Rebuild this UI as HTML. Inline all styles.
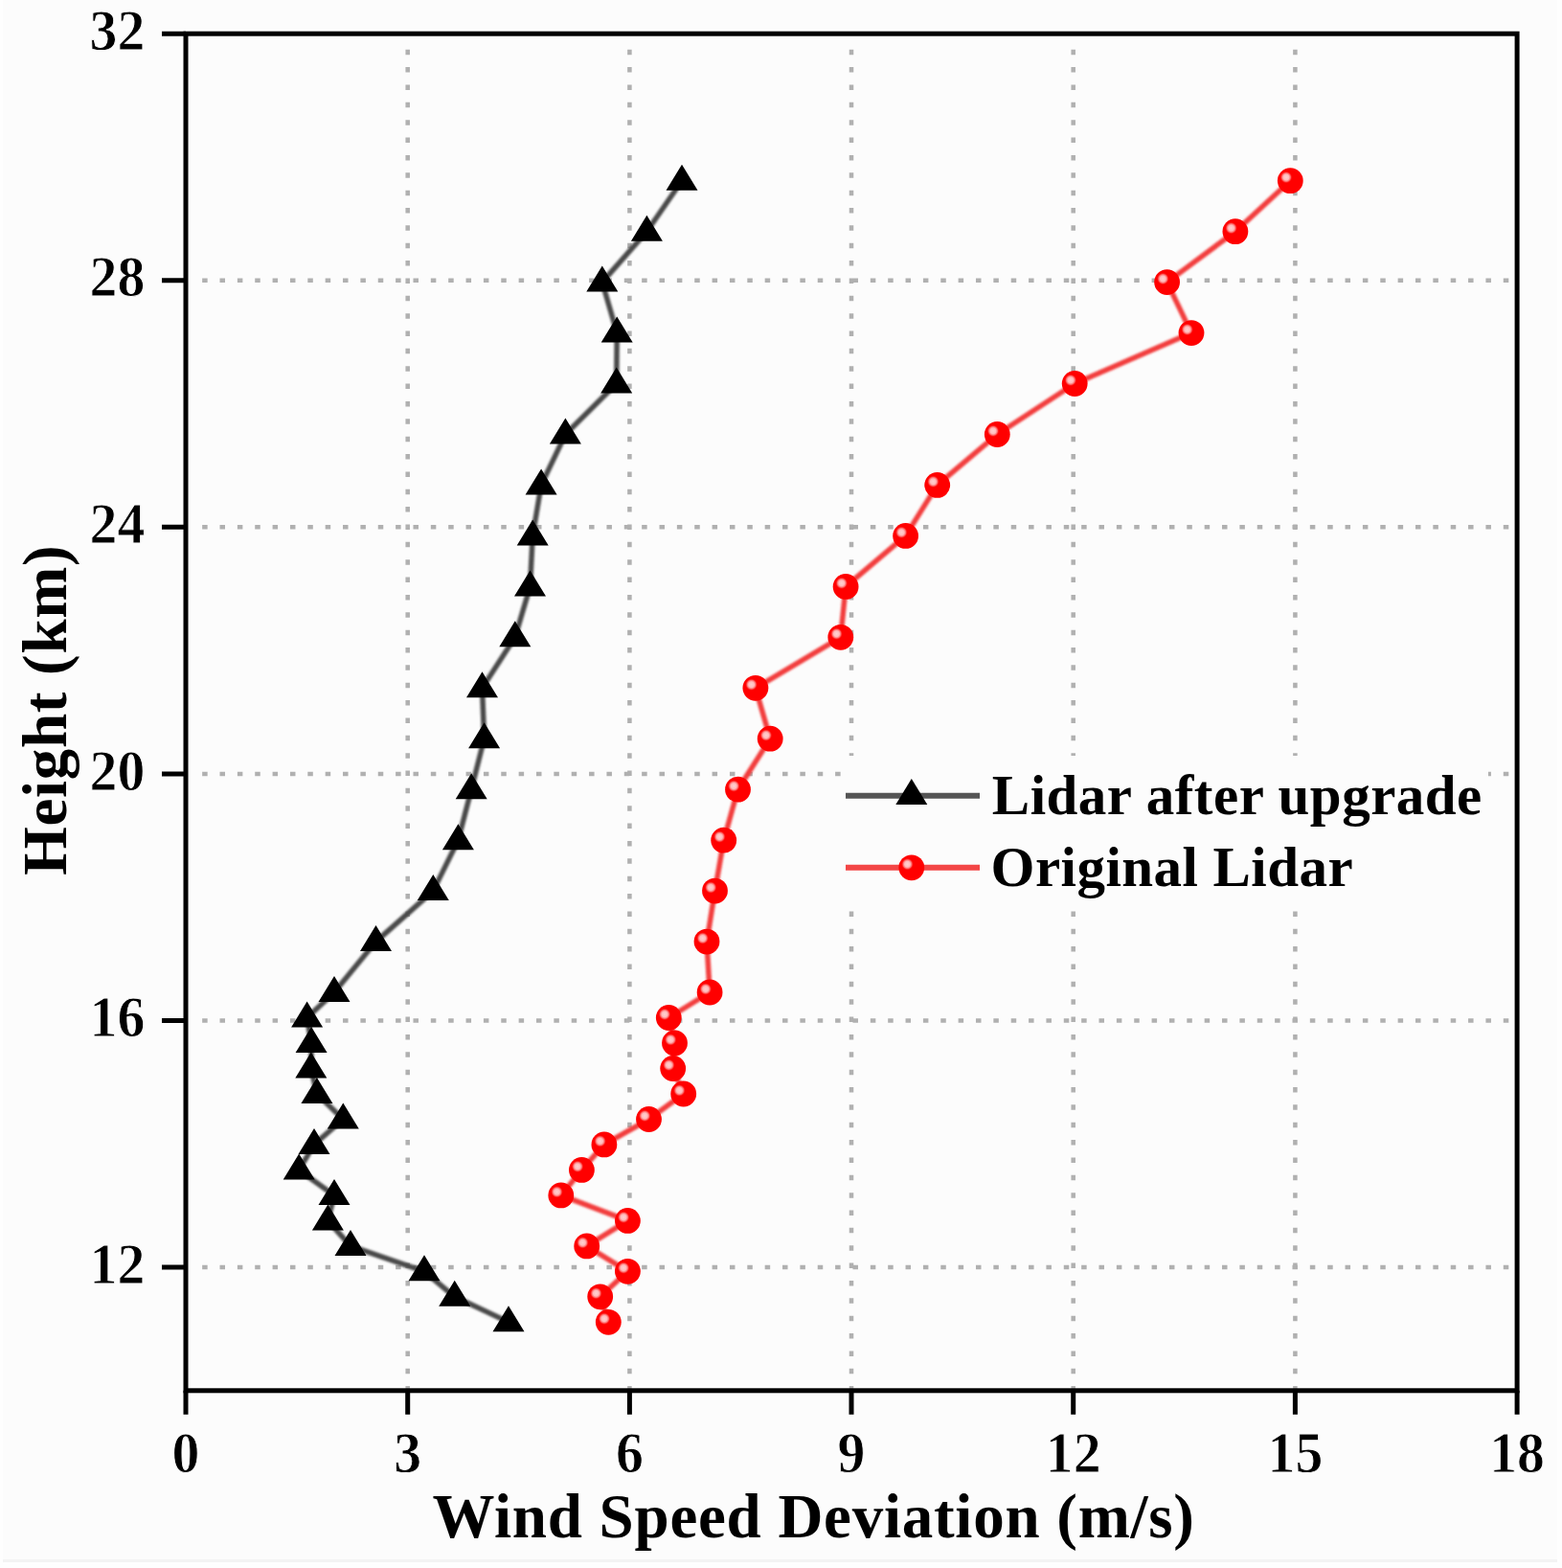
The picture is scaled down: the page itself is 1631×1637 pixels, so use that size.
<!DOCTYPE html>
<html><head><meta charset="utf-8"><style>
html,body{margin:0;padding:0;background:#fefefe;width:1631px;height:1637px;overflow:hidden}
svg{display:block}
text{font-family:'Liberation Serif','Times New Roman',serif;font-weight:bold;fill:#000}
.tl{font-size:57.8px;stroke:#fcfcfc;stroke-width:0.8px}
.at{font-size:65px}
.lg{font-size:59px}
</style></head><body>
<svg width="1631" height="1637" viewBox="0 0 1631 1637">
<defs>
<radialGradient id="hl" cx="0.5" cy="0.5" r="0.5">
<stop offset="0" stop-color="#ffd0d0"/>
<stop offset="0.45" stop-color="#ffbcbc"/>
<stop offset="0.7" stop-color="#ff6868"/>
<stop offset="1" stop-color="#ff0000" stop-opacity="0"/>
</radialGradient>
<filter id="soft" x="0" y="0" width="1631" height="1637" filterUnits="userSpaceOnUse"><feGaussianBlur stdDeviation="0.8"/></filter>
</defs>
<rect x="0" y="0" width="1631" height="1637" fill="#fefefe"/>
<rect x="3" y="0" width="1623" height="1628" fill="#fcfcfc"/>
<rect x="3" y="1628" width="1623" height="3" fill="#f3f3f3"/>
<path d="M425.7,51.75V1451.8 M657.4,51.75V1451.8 M889.0,51.75V1451.8 M1120.7,51.75V1451.8 M1352.4,51.75V1451.8 M211.15,1323.0H1584.1 M211.15,1065.5H1584.1 M211.15,807.9H1584.1 M211.15,550.3H1584.1 M211.15,292.8H1584.1" stroke="#b0b0b0" stroke-width="4.5" stroke-dasharray="5.5 12.86" fill="none"/>
<rect x="878" y="789" width="676" height="161" fill="#fcfcfc"/>
<rect x="194.0" y="35.2" width="1390.1" height="1416.6" fill="none" stroke="#000" stroke-width="5"/>
<path d="M194.0,1451.8V1476.8 M425.7,1451.8V1476.8 M657.4,1451.8V1476.8 M889.0,1451.8V1476.8 M1120.7,1451.8V1476.8 M1352.4,1451.8V1476.8 M1584.1,1451.8V1476.8 M194.0,1323.0H169.0 M194.0,1065.5H169.0 M194.0,807.9H169.0 M194.0,550.3H169.0 M194.0,292.8H169.0 M194.0,35.2H169.0" stroke="#000" stroke-width="5" fill="none"/>
<text transform="translate(194.0,1537.3) scale(1,1.055)" text-anchor="middle" class="tl">0</text>
<text transform="translate(425.7,1537.3) scale(1,1.055)" text-anchor="middle" class="tl">3</text>
<text transform="translate(657.4,1537.3) scale(1,1.055)" text-anchor="middle" class="tl">6</text>
<text transform="translate(889.0,1537.3) scale(1,1.055)" text-anchor="middle" class="tl">9</text>
<text transform="translate(1120.7,1537.3) scale(1,1.055)" text-anchor="middle" class="tl">12</text>
<text transform="translate(1352.4,1537.3) scale(1,1.055)" text-anchor="middle" class="tl">15</text>
<text transform="translate(1584.1,1537.3) scale(1,1.055)" text-anchor="middle" class="tl">18</text>
<text transform="translate(151.4,1339.6) scale(1,1.055)" text-anchor="end" class="tl">12</text>
<text transform="translate(151.4,1082.1) scale(1,1.055)" text-anchor="end" class="tl">16</text>
<text transform="translate(151.4,824.5) scale(1,1.055)" text-anchor="end" class="tl">20</text>
<text transform="translate(151.4,566.9) scale(1,1.055)" text-anchor="end" class="tl">24</text>
<text transform="translate(151.4,309.4) scale(1,1.055)" text-anchor="end" class="tl">28</text>
<text transform="translate(151.4,51.8) scale(1,1.055)" text-anchor="end" class="tl">32</text>
<text x="451.5" y="1605.4" class="at" textLength="795.5" lengthAdjust="spacing">Wind Speed Deviation (m/s)</text>
<text transform="translate(69.1,913.75) rotate(-90)" x="0" y="0" class="at" textLength="344.5" lengthAdjust="spacing">Height (km)</text>
<g filter="url(#soft)"><polyline points="712.0,188.7 675.4,241.7 628.8,294.6 644.2,347.6 643.7,400.5 590.4,453.5 565.1,506.4 556.2,559.4 553.5,612.4 537.8,665.3 503.5,718.3 505.6,771.2 492.2,824.2 478.4,877.2 452.3,930.1 392.5,983.1 349.0,1036.0 320.6,1062.5 325.1,1089.0 324.8,1115.5 330.9,1142.0 358.3,1168.5 328.0,1194.9 312.2,1221.4 349.0,1247.9 342.4,1274.4 366.0,1300.9 443.0,1327.3 474.7,1353.8 531.0,1380.3" fill="none" stroke="#4a4a4a" stroke-width="5.5" stroke-linejoin="round"/>
<polyline points="1347.3,188.7 1289.9,241.7 1218.6,294.6 1244.0,347.6 1122.2,400.5 1041.3,453.5 978.7,506.4 945.6,559.4 883.1,612.4 877.8,665.3 788.9,718.3 804.2,771.2 770.5,824.2 755.7,877.2 746.5,930.1 738.0,983.1 741.1,1036.0 698.3,1062.5 704.5,1089.0 702.7,1115.5 713.7,1142.0 677.5,1168.5 630.9,1194.9 607.4,1221.4 585.8,1247.9 655.4,1274.4 612.7,1300.9 655.4,1327.3 626.7,1353.8 635.3,1380.3" fill="none" stroke="#f23c3c" stroke-width="5.5" stroke-linejoin="round"/></g>
<path d="M531.0,1363.3L547.5,1390.3L514.5,1390.3Z M474.7,1336.8L491.2,1363.8L458.2,1363.8Z M443.0,1310.3L459.5,1337.3L426.5,1337.3Z M366.0,1283.9L382.5,1310.9L349.5,1310.9Z M342.4,1257.4L358.9,1284.4L325.9,1284.4Z M349.0,1230.9L365.5,1257.9L332.5,1257.9Z M312.2,1204.4L328.7,1231.4L295.7,1231.4Z M328.0,1177.9L344.5,1204.9L311.5,1204.9Z M358.3,1151.5L374.8,1178.5L341.8,1178.5Z M330.9,1125.0L347.4,1152.0L314.4,1152.0Z M324.8,1098.5L341.3,1125.5L308.3,1125.5Z M325.1,1072.0L341.6,1099.0L308.6,1099.0Z M320.6,1045.5L337.1,1072.5L304.1,1072.5Z M349.0,1019.0L365.5,1046.0L332.5,1046.0Z M392.5,966.1L409.0,993.1L376.0,993.1Z M452.3,913.1L468.8,940.1L435.8,940.1Z M478.4,860.2L494.9,887.2L461.9,887.2Z M492.2,807.2L508.7,834.2L475.7,834.2Z M505.6,754.2L522.1,781.2L489.1,781.2Z M503.5,701.3L520.0,728.3L487.0,728.3Z M537.8,648.3L554.3,675.3L521.3,675.3Z M553.5,595.4L570.0,622.4L537.0,622.4Z M556.2,542.4L572.7,569.4L539.7,569.4Z M565.1,489.4L581.6,516.5L548.6,516.5Z M590.4,436.5L606.9,463.5L573.9,463.5Z M643.7,383.5L660.2,410.5L627.2,410.5Z M644.2,330.6L660.7,357.6L627.7,357.6Z M628.8,277.6L645.3,304.6L612.3,304.6Z M675.4,224.7L691.9,251.7L658.9,251.7Z M712.0,171.7L728.5,198.7L695.5,198.7Z" fill="#000"/>
<circle cx="635.3" cy="1380.3" r="13.4" fill="#ff0000"/><circle cx="631.0" cy="1376.7" r="6.5" fill="url(#hl)"/>
<circle cx="626.7" cy="1353.8" r="13.4" fill="#ff0000"/><circle cx="622.4" cy="1350.2" r="6.5" fill="url(#hl)"/>
<circle cx="655.4" cy="1327.3" r="13.4" fill="#ff0000"/><circle cx="651.1" cy="1323.7" r="6.5" fill="url(#hl)"/>
<circle cx="612.7" cy="1300.9" r="13.4" fill="#ff0000"/><circle cx="608.4" cy="1297.3" r="6.5" fill="url(#hl)"/>
<circle cx="655.4" cy="1274.4" r="13.4" fill="#ff0000"/><circle cx="651.1" cy="1270.8" r="6.5" fill="url(#hl)"/>
<circle cx="585.8" cy="1247.9" r="13.4" fill="#ff0000"/><circle cx="581.5" cy="1244.3" r="6.5" fill="url(#hl)"/>
<circle cx="607.4" cy="1221.4" r="13.4" fill="#ff0000"/><circle cx="603.1" cy="1217.8" r="6.5" fill="url(#hl)"/>
<circle cx="630.9" cy="1194.9" r="13.4" fill="#ff0000"/><circle cx="626.6" cy="1191.3" r="6.5" fill="url(#hl)"/>
<circle cx="677.5" cy="1168.5" r="13.4" fill="#ff0000"/><circle cx="673.2" cy="1164.9" r="6.5" fill="url(#hl)"/>
<circle cx="713.7" cy="1142.0" r="13.4" fill="#ff0000"/><circle cx="709.4" cy="1138.4" r="6.5" fill="url(#hl)"/>
<circle cx="702.7" cy="1115.5" r="13.4" fill="#ff0000"/><circle cx="698.4" cy="1111.9" r="6.5" fill="url(#hl)"/>
<circle cx="704.5" cy="1089.0" r="13.4" fill="#ff0000"/><circle cx="700.2" cy="1085.4" r="6.5" fill="url(#hl)"/>
<circle cx="698.3" cy="1062.5" r="13.4" fill="#ff0000"/><circle cx="694.0" cy="1058.9" r="6.5" fill="url(#hl)"/>
<circle cx="741.1" cy="1036.0" r="13.4" fill="#ff0000"/><circle cx="736.8" cy="1032.5" r="6.5" fill="url(#hl)"/>
<circle cx="738.0" cy="983.1" r="13.4" fill="#ff0000"/><circle cx="733.7" cy="979.5" r="6.5" fill="url(#hl)"/>
<circle cx="746.5" cy="930.1" r="13.4" fill="#ff0000"/><circle cx="742.2" cy="926.5" r="6.5" fill="url(#hl)"/>
<circle cx="755.7" cy="877.2" r="13.4" fill="#ff0000"/><circle cx="751.4" cy="873.6" r="6.5" fill="url(#hl)"/>
<circle cx="770.5" cy="824.2" r="13.4" fill="#ff0000"/><circle cx="766.2" cy="820.6" r="6.5" fill="url(#hl)"/>
<circle cx="804.2" cy="771.2" r="13.4" fill="#ff0000"/><circle cx="799.9" cy="767.6" r="6.5" fill="url(#hl)"/>
<circle cx="788.9" cy="718.3" r="13.4" fill="#ff0000"/><circle cx="784.6" cy="714.7" r="6.5" fill="url(#hl)"/>
<circle cx="877.8" cy="665.3" r="13.4" fill="#ff0000"/><circle cx="873.5" cy="661.7" r="6.5" fill="url(#hl)"/>
<circle cx="883.1" cy="612.4" r="13.4" fill="#ff0000"/><circle cx="878.8" cy="608.8" r="6.5" fill="url(#hl)"/>
<circle cx="945.6" cy="559.4" r="13.4" fill="#ff0000"/><circle cx="941.3" cy="555.8" r="6.5" fill="url(#hl)"/>
<circle cx="978.7" cy="506.4" r="13.4" fill="#ff0000"/><circle cx="974.4" cy="502.8" r="6.5" fill="url(#hl)"/>
<circle cx="1041.3" cy="453.5" r="13.4" fill="#ff0000"/><circle cx="1037.0" cy="449.9" r="6.5" fill="url(#hl)"/>
<circle cx="1122.2" cy="400.5" r="13.4" fill="#ff0000"/><circle cx="1117.9" cy="396.9" r="6.5" fill="url(#hl)"/>
<circle cx="1244.0" cy="347.6" r="13.4" fill="#ff0000"/><circle cx="1239.7" cy="344.0" r="6.5" fill="url(#hl)"/>
<circle cx="1218.6" cy="294.6" r="13.4" fill="#ff0000"/><circle cx="1214.3" cy="291.0" r="6.5" fill="url(#hl)"/>
<circle cx="1289.9" cy="241.7" r="13.4" fill="#ff0000"/><circle cx="1285.6" cy="238.1" r="6.5" fill="url(#hl)"/>
<circle cx="1347.3" cy="188.7" r="13.4" fill="#ff0000"/><circle cx="1343.0" cy="185.1" r="6.5" fill="url(#hl)"/>
<line x1="883" y1="830.8" x2="1023" y2="830.8" stroke="#555" stroke-width="6"/>
<path d="M951.8,813.0L968.3,840.0L935.3,840.0Z" fill="#000"/>
<line x1="883" y1="905.8" x2="1023" y2="905.8" stroke="#f34646" stroke-width="6"/>
<circle cx="951.8" cy="905.8" r="13.4" fill="#ff0000"/><circle cx="947.5" cy="902.2" r="6.5" fill="url(#hl)"/>
<text x="1035.8" y="850" class="lg" textLength="511.5" lengthAdjust="spacing">Lidar after upgrade</text>
<text x="1034.6" y="925.3" class="lg" textLength="378" lengthAdjust="spacing">Original Lidar</text>
</svg>
</body></html>
